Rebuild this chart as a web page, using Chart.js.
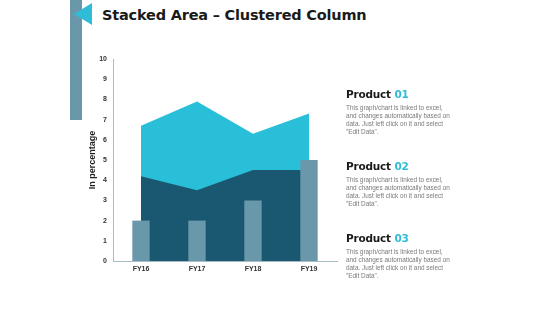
<!DOCTYPE html>
<html>
<head>
<meta charset="utf-8">
<script src="https://cdn.jsdelivr.net/npm/chart.js@4/dist/chart.umd.min.js"></script>
<style>
  html, body { margin: 0; padding: 0; background: #fff; }
  #wrap { position: relative; width: 560px; height: 315px; overflow: hidden; }
  #chart { position: absolute; left: 0; top: 0; }
  .side-bar { position: absolute; left: 70px; top: 0; width: 12px; height: 120px; background: #6a98ab; }
  .tri { position: absolute; left: 74px; top: 3px; width: 0; height: 0;
         border-top: 11px solid transparent; border-bottom: 11px solid transparent;
         border-right: 18px solid #2fbcd6; }
  .title { position: absolute; left: 102px; top: 7px; font-family: "DejaVu Sans", sans-serif;
           font-weight: bold; font-size: 14.5px; color: #1a1a1a; white-space: nowrap; letter-spacing: -0.2px; }
  .prod { position: absolute; left: 346px; width: 115px; font-family: "Liberation Sans", Arial, sans-serif; }
  .prod h3 { margin: 0; font-family: "DejaVu Sans", sans-serif; font-weight: bold; font-size: 10.5px; color: #1a1a1a; letter-spacing: -0.2px; }
  .prod h3 span { color: #2fbcd6; }
  .prod p { margin: 4px 0 0 0; font-size: 6.4px; line-height: 8px; color: #7a7a7a; }
</style>
</head>
<body>
<div id="wrap">
  <div class="side-bar"></div>
  <div class="tri"></div>
  <div class="title">Stacked Area – Clustered Column</div>
  <canvas id="chart" width="560" height="315"></canvas>
  <div class="prod" style="top:88px"><h3>Product <span>01</span></h3><p>This graph/chart is linked to excel,<br>and changes automatically based on<br>data. Just left click on it and select<br>"Edit Data".</p></div>
  <div class="prod" style="top:160px"><h3>Product <span>02</span></h3><p>This graph/chart is linked to excel,<br>and changes automatically based on<br>data. Just left click on it and select<br>"Edit Data".</p></div>
  <div class="prod" style="top:232px"><h3>Product <span>03</span></h3><p>This graph/chart is linked to excel,<br>and changes automatically based on<br>data. Just left click on it and select<br>"Edit Data".</p></div>
</div>
<script>
// Chart values
const categories = ['FY16', 'FY17', 'FY18', 'FY19'];
const areaBottom = [4.2, 3.5, 4.5, 4.5];   // dark area
const areaTop = [2.5, 4.4, 1.8, 2.8];      // light area, stacked on dark
const columns = [2, 2, 3, 5];
const yTicks = [0, 1, 2, 3, 4, 5, 6, 7, 8, 9, 10];

const axisColor = '#a9bcc6';
const tickFont = { family: 'Liberation Sans', size: 7, weight: 'bold' };

new Chart(document.getElementById('chart'), {
    type: 'bar',
    data: {
        labels: categories,
        datasets: [
            {
                type: 'bar',
                label: 'Column',
                data: columns,
                backgroundColor: '#6a98ab',
                borderWidth: 0,
                categoryPercentage: 1,
                barPercentage: 0.31,
                stack: 'cols',
                order: 0
            },
            {
                type: 'line',
                label: 'Area 2',
                data: areaBottom,
                backgroundColor: '#1a5872',
                borderWidth: 0,
                pointRadius: 0,
                tension: 0,
                fill: 'origin',
                stack: 'areas',
                order: 1
            },
            {
                type: 'line',
                label: 'Area 1',
                data: areaTop,
                backgroundColor: '#29bfd8',
                borderWidth: 0,
                pointRadius: 0,
                tension: 0,
                fill: 'origin',
                stack: 'areas',
                order: 2
            }
        ]
    },
    options: {
        responsive: false,
        animation: false,
        layout: {
            padding: { top: 59, bottom: 34, left: 87, right: 223 }
        },
        plugins: {
            legend: { display: false },
            tooltip: { enabled: false }
        },
        scales: {
            x: {
                offset: true,
                grid: { display: false, drawTicks: false },
                border: { color: axisColor, width: 1 },
                ticks: { color: '#333', font: tickFont, padding: 4, maxRotation: 0 },
                afterFit: function (scale) { scale.height = 20; }
            },
            y: {
                stacked: true,
                min: 0,
                max: 10,
                grid: { display: false, drawTicks: false },
                border: { color: axisColor, width: 1 },
                afterBuildTicks: function (scale) {
                    scale.ticks = yTicks.map(v => ({ value: v }));
                },
                ticks: { color: '#333', font: tickFont, padding: 6 },
                title: {
                    display: true,
                    text: 'In percentage',
                    color: '#222',
                    font: { family: 'Liberation Sans', size: 9, weight: 'bold' },
                    padding: 0
                },
                afterFit: function (scale) { scale.width = 26; }
            }
        }
    }
});
</script>
</body>
</html>
